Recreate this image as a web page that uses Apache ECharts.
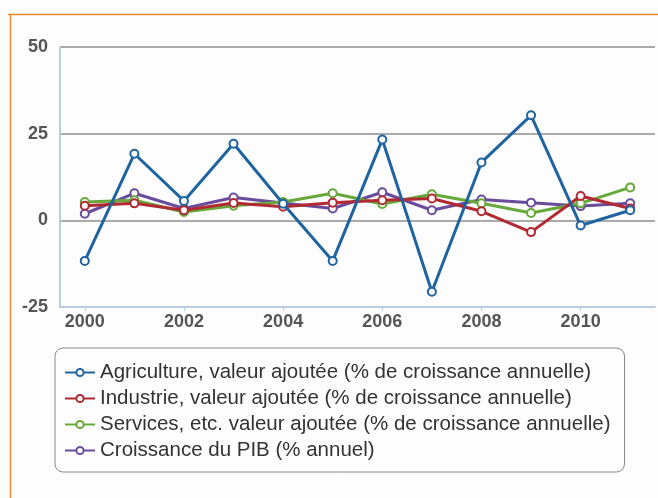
<!DOCTYPE html>
<html><head><meta charset="utf-8">
<script src="https://cdn.jsdelivr.net/npm/echarts@6/dist/echarts.min.js"></script>
<style>html,body{margin:0;padding:0;background:#fdfdfd}#c{width:658px;height:498px}</style>
</head><body><div id="c"></div>
<script>
var years = ['2000','2001','2002','2003','2004','2005','2006','2007','2008','2009','2010','2011'];
var yTicks = [-25, 0, 25, 50];
var agriculture = [-11.7, 19.2, 5.6, 22.1, 4.8, -11.7, 23.3, -20.6, 16.7, 30.3, -1.5, 2.9];
var industrie = [4.2, 4.9, 2.9, 5.0, 3.9, 5.1, 5.8, 6.3, 2.6, -3.4, 7.0, 3.4];
var services = [5.3, 5.8, 2.4, 4.2, 5.3, 7.8, 4.7, 7.5, 4.9, 2.1, 4.9, 9.5];
var pib = [1.9, 7.8, 3.4, 6.6, 5.0, 3.4, 8.1, 2.9, 6.0, 5.1, 4.1, 4.9];
var names = [
  'Agriculture, valeur ajoutée (% de croissance annuelle)',
  'Industrie, valeur ajoutée (% de croissance annuelle)',
  'Services, etc. valeur ajoutée (% de croissance annuelle)',
  'Croissance du PIB (% annuel)'
];
var colors = ['#1f64a0', '#b12a33', '#66a83a', '#6a4b9c'];
var datas = [agriculture, industrie, services, pib];

var chart = echarts.init(document.getElementById('c'));
chart.setOption({
  backgroundColor: '#fdfdfd',
  animation: false,
  graphic: [
    {type: 'line', shape: {x1: 8, y1: 14.5, x2: 658, y2: 14.5}, style: {stroke: '#f08a30', lineWidth: 1.5}},
    {type: 'line', shape: {x1: 10.5, y1: 14, x2: 10.5, y2: 498}, style: {stroke: '#f08a30', lineWidth: 1.5}}
  ],
  grid: {left: 60, right: 3, top: 47, bottom: 191},
  xAxis: {
    type: 'category', data: years, boundaryGap: true,
    axisLine: {onZero: false, lineStyle: {color: '#b8cde2', width: 2}},
    axisTick: {show: true, alignWithLabel: true, interval: 1, length: 4, lineStyle: {color: '#b8cde2'}},
    axisLabel: {interval: 1, color: '#555', fontWeight: 'bold', fontSize: 18, fontFamily: 'Liberation Sans', margin: 6}
  },
  yAxis: {
    type: 'value', min: -25, max: 50, interval: 25,
    axisLine: {show: true, lineStyle: {color: '#b8cde2', width: 2}},
    axisTick: {show: false},
    axisLabel: {color: '#555', fontWeight: 'bold', fontSize: 18, fontFamily: 'Liberation Sans', margin: 12,
      formatter: function (v) { return yTicks.indexOf(v) >= 0 ? String(v) : ''; }},
    splitLine: {lineStyle: {color: '#aaaaaa', width: 2}}
  },
  legend: {
    orient: 'vertical', left: 55, top: 348,
    padding: [14, 14, 11, 9],
    borderColor: '#888', borderWidth: 1, borderRadius: 8,
    itemGap: 5, itemWidth: 30, itemHeight: 9,
    textStyle: {fontSize: 20.5, color: '#333', fontFamily: 'Liberation Sans'},
    data: names
  },
  series: datas.map(function (d, i) {
    return {
      name: names[i], type: 'line', data: d,
      symbol: 'emptyCircle', symbolSize: 8,
      itemStyle: {color: colors[i], borderWidth: 2},
      lineStyle: {color: colors[i], width: 3},
      z: 10 - i
    };
  })
});
</script></body></html>
